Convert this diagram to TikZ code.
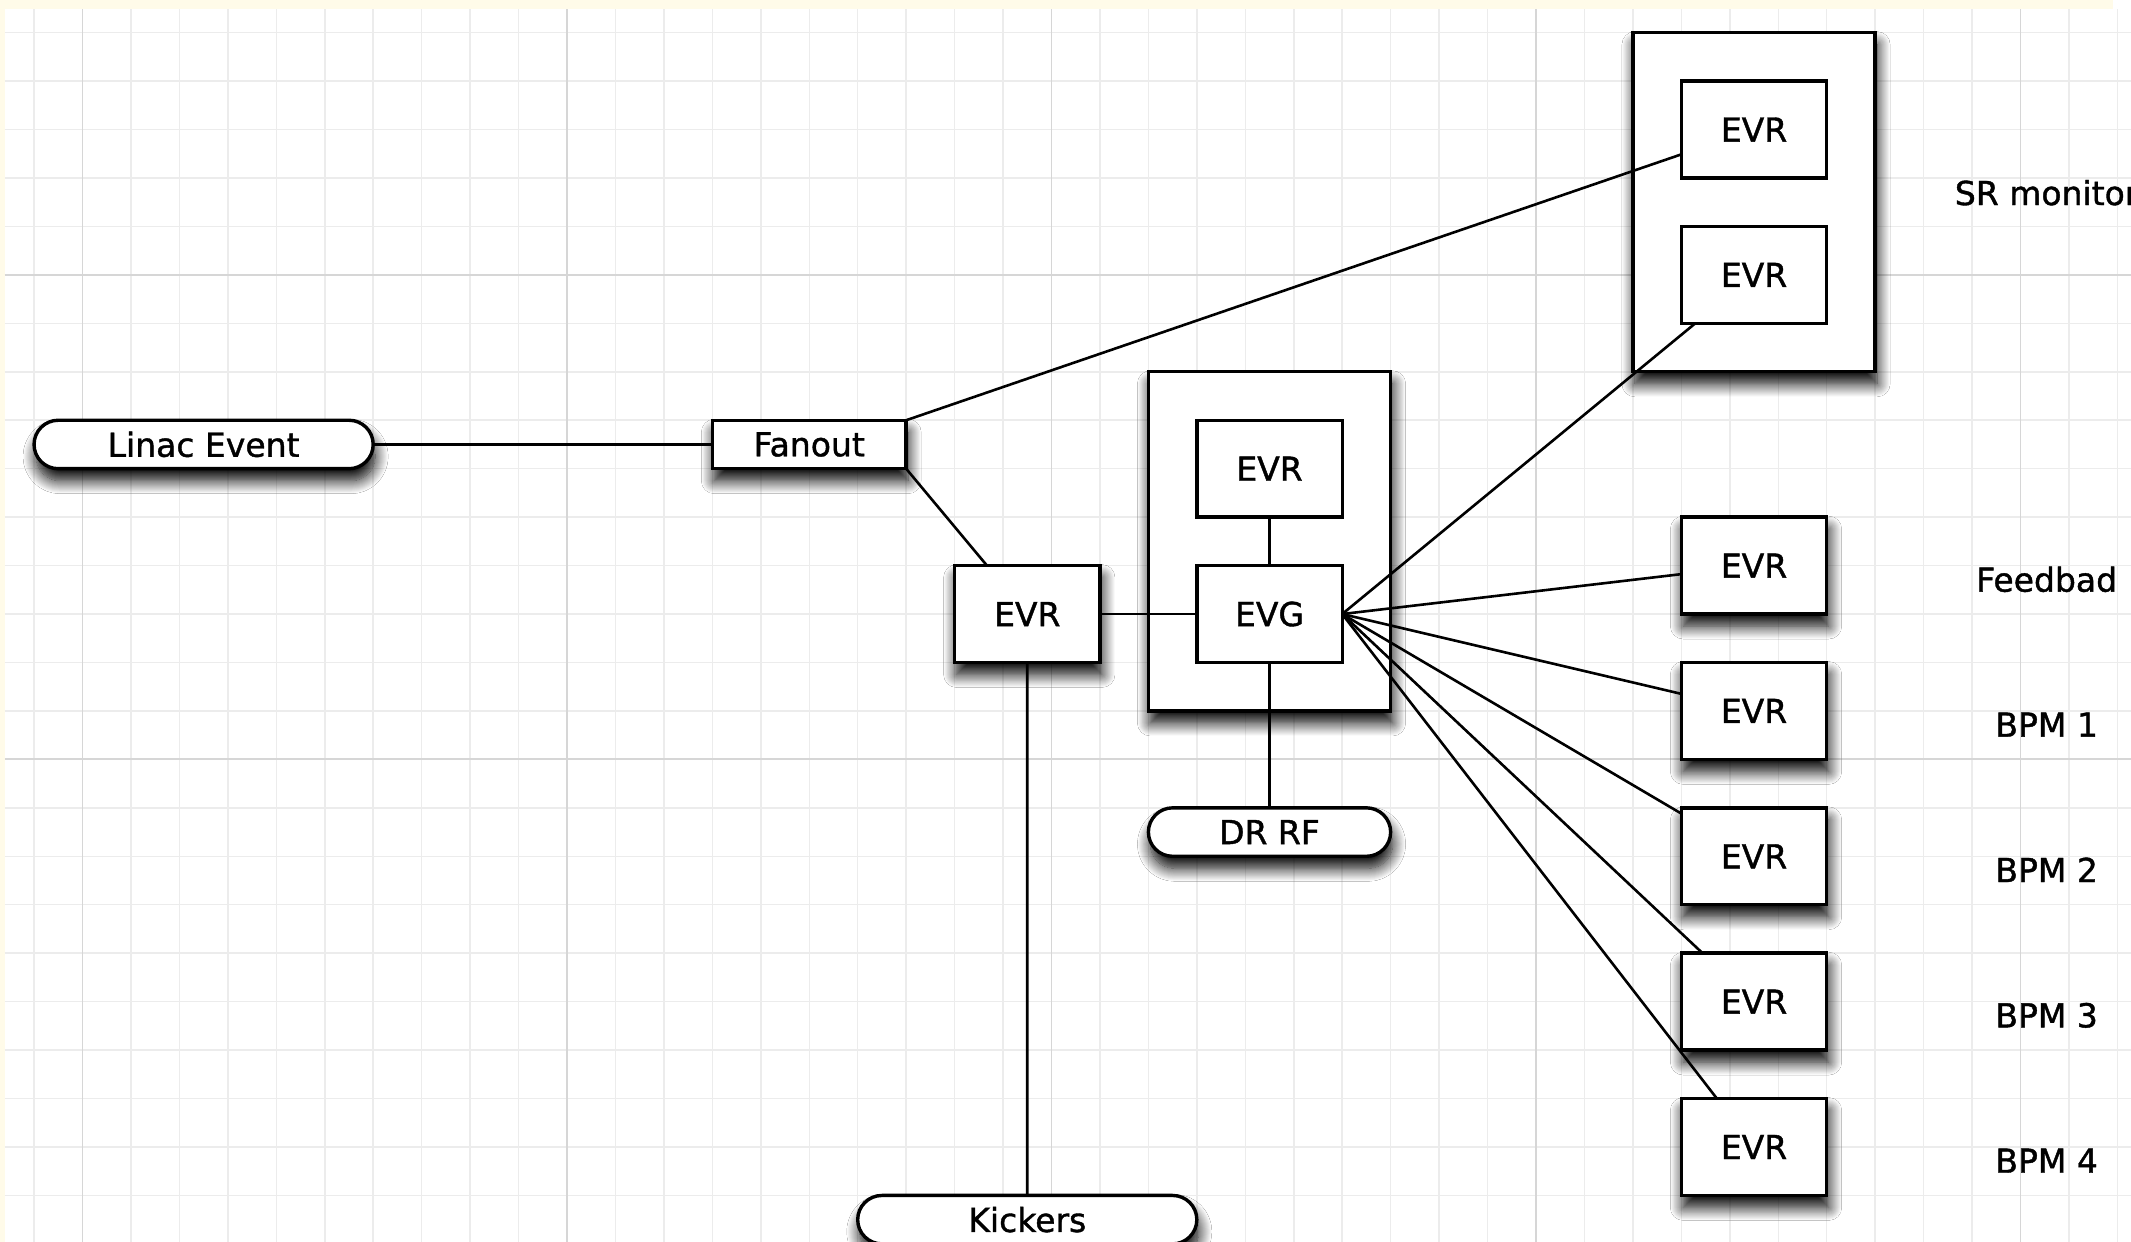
\documentclass[tikz,border=0pt]{standalone}
\usepackage{fontspec}
\setmainfont{DejaVu Sans}[BoldFont={DejaVu Sans}, BoldFeatures={FakeBold=1.2}]
\usetikzlibrary{shapes.misc,shadows.blur}
\definecolor{cream}{RGB}{255,251,233}
\definecolor{gridminor}{RGB}{236,236,236}
\definecolor{gridmajor}{RGB}{214,214,214}
\def\g{48.45pt}
\tikzset{
  every node/.style={font=\fontsize{33}{40}\selectfont\bfseries},
  box/.style={draw, line width=3.4pt, fill=white, rectangle, inner sep=0pt, outer sep=0pt},
  pill/.style={draw, line width=3.4pt, fill=white, rounded rectangle, inner sep=0pt, outer sep=0pt},
  sh/.style={blur shadow={shadow xshift=2pt, shadow yshift=-12pt, shadow blur radius=13pt, shadow blur steps=14, shadow opacity=100}},
  link/.style={line width=2.6pt},
  lbl/.style={anchor=base}
}
\begin{document}
\begin{tikzpicture}[x=\g, y=-\g]
\useasboundingbox (-1.70279,-5.67389) rectangle (42.28122,19.96078);
\clip (-1.70279,-5.67389) rectangle (42.28122,19.96078);
% background
\fill[white] (-1.70279,-5.67389) rectangle (42.28122,19.96078);
\fill[cream] (-1.70279,-5.67389) rectangle (41.909,-5.47781);
\fill[cream] (-1.70279,-5.67389) rectangle (-1.59959,19.96078);
% grid
\foreach \i in {-1,...,42} \draw[gridminor, line width=1.5pt] (\i,-5.47781) -- (\i,19.96078);
\foreach \j in {-5,...,19} \draw[gridminor, line width=1.5pt] (-1.59959,\j) -- (42.28122,\j);
\foreach \i in {0,10,20,30,40} \draw[gridmajor, line width=1.8pt] (\i,-5.47781) -- (\i,19.96078);
\foreach \j in {0,10} \draw[gridmajor, line width=1.8pt] (-1.59959,\j) -- (42.28122,\j);
% containers
\node[box, sh, minimum width=5*\g, minimum height=7*\g] (cont) at (24.5,5.5) {};
\node[box, sh, minimum width=5*\g, minimum height=7*\g] (srcont) at (34.5,-1.5) {};
% nodes
\node[pill, sh, minimum width=7*\g, minimum height=\g] (linac) at (2.5,3.5) {Linac Event};
\node[box, sh, minimum width=4*\g, minimum height=\g] (fanout) at (15,3.5) {Fanout};
\node[box, sh, minimum width=3*\g, minimum height=2*\g] (evrL) at (19.5,7) {EVR};
\node[box, minimum width=3*\g, minimum height=2*\g] (evrI) at (24.5,4) {EVR};
\node[box, minimum width=3*\g, minimum height=2*\g] (evg) at (24.5,7) {EVG};
\node[pill, sh, minimum width=5*\g, minimum height=\g] (drrf) at (24.5,11.5) {DR RF};
\node[pill, sh, minimum width=7*\g, minimum height=\g] (kick) at (19.5,19.5) {Kickers};
\node[box, minimum width=3*\g, minimum height=2*\g] (sr1) at (34.5,-3) {EVR};
\node[box, minimum width=3*\g, minimum height=2*\g] (sr2) at (34.5,0) {EVR};
\node[box, sh, minimum width=3*\g, minimum height=2*\g] (fb) at (34.5,6) {EVR};
\node[box, sh, minimum width=3*\g, minimum height=2*\g] (b1) at (34.5,9) {EVR};
\node[box, sh, minimum width=3*\g, minimum height=2*\g] (b2) at (34.5,12) {EVR};
\node[box, sh, minimum width=3*\g, minimum height=2*\g] (b3) at (34.5,15) {EVR};
\node[box, sh, minimum width=3*\g, minimum height=2*\g] (b4) at (34.5,18) {EVR};
% labels
\node[lbl] (lsr) at (40.54,-1.442) {SR monitor};
\node[lbl] (lfb) at (40.54,6.538) {Feedbad};
\node[lbl] (l1) at (40.54,9.531) {BPM 1};
\node[lbl] (l2) at (40.54,12.531) {BPM 2};
\node[lbl] (l3) at (40.54,15.531) {BPM 3};
\node[lbl] (l4) at (40.54,18.531) {BPM 4};
% connectors
\draw[link] (linac) -- (fanout);
\draw[link] (fanout.north east) -- (sr1);
\draw[link] (fanout.south east) -- (evrL);
\draw[link] (evrL) -- (evg);
\draw[link] (evrL) -- (kick);
\draw[link] (evrI) -- (evg);
\draw[link] (evg) -- (drrf);
\foreach \t in {sr2,fb,b1,b2,b3,b4} \draw[link] (evg.east) -- (\t);
\end{tikzpicture}
\end{document}
